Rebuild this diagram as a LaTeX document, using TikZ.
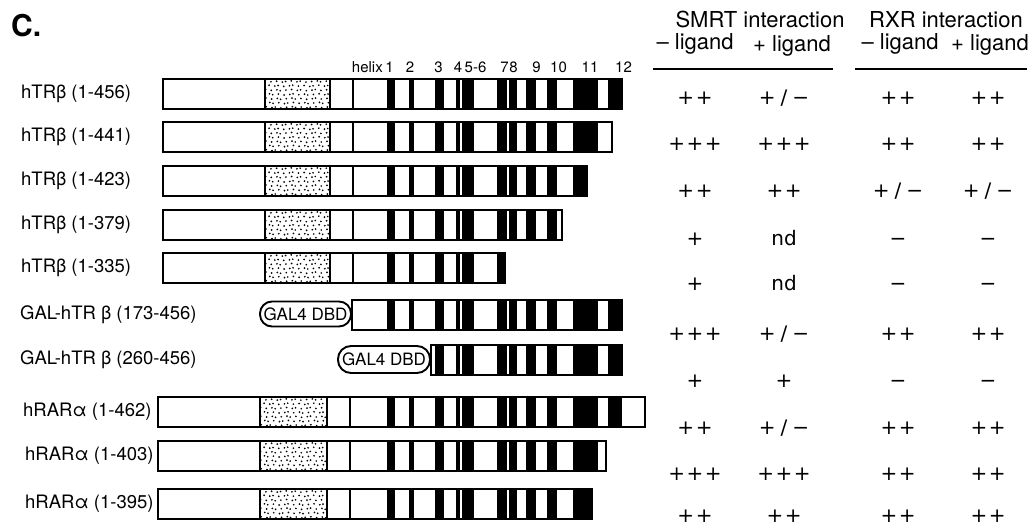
\documentclass[tikz,border=0pt]{standalone}
\usepackage{fontspec}
\setmainfont{TeX Gyre Heros}
\newfontfamily\valfont{DejaVu Sans}
\tikzset{
  lab/.style={font=\fontsize{18.5}{20}\selectfont, anchor=west, inner sep=0pt},
  val/.style={font=\valfont\fontsize{20}{22}\selectfont, anchor=base, inner sep=0pt},
  hdr/.style={font=\fontsize{22}{24}\selectfont, anchor=base, inner sep=0pt},
  hx/.style={font=\fontsize{15}{16}\selectfont, anchor=base, inner sep=0pt},
  galbox/.style={draw, rectangle, line width=1.9pt, inner sep=0pt, font=\fontsize{17}{18}\selectfont},
  border/.style={line width=2.2pt},
  divline/.style={line width=1.6pt}
}
\def\hA{387/395, 409/414, 435/444, 456/460, 463/474, 497/507, 509/517, 526/536, 547/557, 573/598, 608/621}
\def\hB{387/395, 409/414, 435/444, 456/460, 463/474, 497/507, 509/517, 526/536, 547/557, 573/598}
% #1 list, #2 x start, #3 x end, #4 y top
\newcommand\helices[4]{%
  \fill[white] (#2,#4) rectangle (#3,#4+30);
  \begin{scope}
    \clip (#2,#4) rectangle (#3,#4+30);
    \foreach \a/\b in #1 { \fill (\a,#4) rectangle (\b,#4+30); }
    \draw[line width=0.8pt] (462,#4) -- (462,#4+30);
  \end{scope}}
% stipple: #1 x1, #2 x2, #3 y top
\newcommand\stip[3]{%
  \begin{scope}
    \clip (#1,#3) rectangle (#2,#3+30);
    \foreach \rr in {0,...,6}{\foreach \kk in {0,...,13}{
      \fill ({#1+1.2+\kk*5+mod(\rr,2)*2.5+mod(\kk*37+\rr*11,7)*0.35-1},{#3+2.5+\rr*4.3+mod(\kk*13+\rr*5,5)*0.3-0.6}) circle[radius=0.95];}}
  \end{scope}
  \draw[divline] (#1,#3) -- (#1,#3+30) (#2,#3) -- (#2,#3+30);}
% frame: #1 x1 #2 x2 #3 y top
\newcommand\frm[3]{\draw[border] (#1,#3) rectangle (#2,#3+30);}
\newcommand\dvl[2]{\draw[divline] (#1,#2) -- (#1,#2+30);}
\newcommand\ptwo{+\kern1.5pt+}
\newcommand\pthree{+\kern1.5pt+\kern1.5pt+}
\newcommand\pone{+}
\newcommand\pmm{+\kern5pt/\kern5pt−}
\newcommand\mn{−}
\begin{document}
\begin{tikzpicture}[x=1pt,y=-1pt]
\useasboundingbox (0,0) rectangle (1031,527);

\node[anchor=base west, inner sep=0pt, font=\fontsize{30}{32}\selectfont\bfseries] (title) at (11,37) {C.};

% headers
\node[hdr] (smrt) at (760,28) {SMRT interaction};
\node[hdr] (rxr) at (946,28) {RXR interaction};
\node[hdr] (sm) at (695,50) {– ligand};
\node[hdr] (sp) at (792,52) {+ ligand};
\node[hdr] (rm) at (900,50) {– ligand};
\node[hdr] (rp) at (990,51) {+ ligand};
\draw[line width=2.2pt] (653,69) -- (833,69);
\draw[line width=2.2pt] (855,69) -- (1027,69);

% helix labels
\node[hx, anchor=base east] (hxl) at (383,73) {helix};
\foreach \xx/\tt [count=\i] in {389.5/1, 410/2, 438.5/3, 458/4, 475.5/5-6, 504.5/7, 513.5/8, 536.5/9, 558.5/10, 590/11, 623.5/12}
  \node[hx] (hx\i) at (\xx,73) {\tt};

% row labels
\node[lab] (l1) at (21,94) {hTRβ (1-456)};
\node[lab] (l2) at (21,137) {hTRβ (1-441)};
\node[lab] (l3) at (21,181) {hTRβ (1-423)};
\node[lab] (l4) at (21,225) {hTRβ (1-379)};
\node[lab] (l5) at (21,268) {hTRβ (1-335)};
\node[lab] (l6) at (20,315) {GAL-hTR β (173-456)};
\node[lab] (l7) at (20,360) {GAL-hTR β (260-456)};
\node[lab] (l8) at (23,412) {hRARα (1-462)};
\node[lab] (l9) at (25,456) {hRARα (1-403)};
\node[lab] (l10) at (25,504) {hRARα (1-395)};

% bars hTRbeta
\helices{\hA}{163}{622}{79}  \stip{265}{330}{79}  \dvl{353}{79}  \frm{163}{622}{79}
\helices{\hB}{163}{612}{122} \stip{265}{330}{122} \dvl{353}{122} \frm{163}{612}{122}
\helices{\hA}{163}{587}{166} \stip{265}{330}{166} \dvl{353}{166} \frm{163}{587}{166}
\helices{\hA}{163}{562}{210} \stip{265}{330}{210} \dvl{353}{210} \frm{163}{562}{210}
\helices{\hA}{163}{505}{253} \stip{265}{330}{253} \dvl{353}{253} \frm{163}{505}{253}

% GAL constructs
\helices{\hA}{352}{622}{300} \frm{352}{622}{300}
\node[galbox, rounded corners=12pt, minimum width=91pt, minimum height=25pt] (gal6) at (305.5,314) {GAL4 DBD};
\helices{\hA}{431}{622}{345} \frm{431}{622}{345}
\node[galbox, rounded corners=13pt, minimum width=92pt, minimum height=27pt] (gal7) at (384,359.5) {GAL4 DBD};

% hRARalpha
\helices{\hA}{158}{645}{397} \stip{260}{327}{397} \dvl{350}{397} \dvl{621}{397} \frm{158}{645}{397}
\helices{\hB}{158}{606}{441} \stip{260}{327}{441} \dvl{350}{441} \frm{158}{606}{441}
\helices{\hA}{158}{592}{489} \stip{260}{327}{489} \dvl{350}{489} \frm{158}{592}{489}

% values
\foreach \yy/\va/\vb/\vc/\vd [count=\i] in {
  104/\ptwo/\pmm/\ptwo/\ptwo,
  150/\pthree/\pthree/\ptwo/\ptwo,
  197/\ptwo/\ptwo/\pmm/\pmm,
  245/\pone/nd/\mn/\mn,
  290/\pone/nd/\mn/\mn,
  340/\pthree/\pmm/\ptwo/\ptwo,
  387/\pone/\pone/\mn/\mn,
  434/\ptwo/\pmm/\ptwo/\ptwo,
  480/\pthree/\pthree/\ptwo/\ptwo,
  522/\ptwo/\ptwo/\ptwo/\ptwo}{
  \node[val] (v\i a) at (695,\yy) {\va};
  \node[val] (v\i b) at (784,\yy) {\vb};
  \node[val] (v\i c) at (898,\yy) {\vc};
  \node[val] (v\i d) at (988,\yy) {\vd};
}
\end{tikzpicture}
\end{document}
